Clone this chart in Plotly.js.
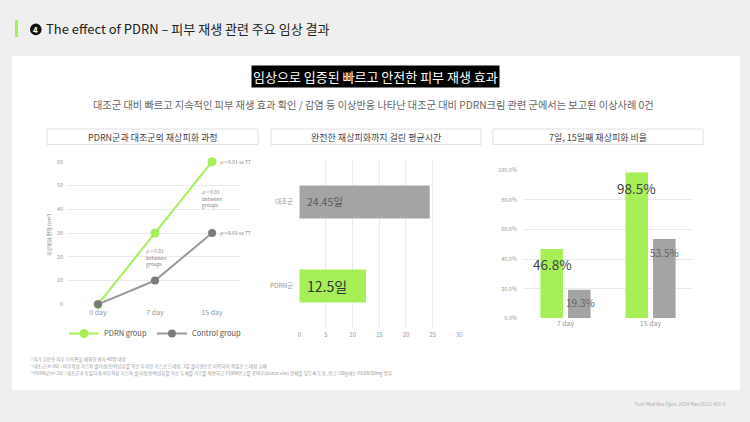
<!DOCTYPE html>
<html><head><meta charset="utf-8">
<script src="https://cdn.plot.ly/plotly-3.0.1.min.js"></script>
<style>html,body{margin:0;padding:0;background:#efefef}#c{width:750px;height:422px}</style>
</head><body><div id="c"></div><script>
// ---- data ----
const days = ['0 day', '7 day', '15 day'];
const pdrnArea = [0, 30, 60];
const controlArea = [0, 10, 30];
const areaTicks = [0, 10, 20, 30, 40, 50, 60];

const healCats = ['PDRN군', '대조군'];
const healDays = [12.5, 24.45];
const healTicks = [0, 5, 10, 15, 20, 25, 30];

const rateDays = ['7 day', '15 day'];
const pdrnRate = [46.8, 98.5];
const controlRate = [19.3, 53.5];
const rateTicks = [0, 20, 40, 60, 80, 100];

// ---- style ----
const W = 750, H = 422;
const GREEN = '#a6ef58', GRAY_BAR = '#a4a4a4', GRAY_LINE = '#9a9a9a', GRAY_MK = '#7a7a7a';
const FONT = '"Noto Sans CJK KR", "Noto Sans", sans-serif';
const px = x => x / W, py = y => 1 - y / H;

const traces = [
  {x: days, y: pdrnArea, xaxis: 'x', yaxis: 'y', type: 'scatter', mode: 'lines+markers', name: 'PDRN group',
   line: {color: GREEN, width: 2}, marker: {color: GREEN, size: 9}, cliponaxis: false},
  {x: days, y: controlArea, xaxis: 'x', yaxis: 'y', type: 'scatter', mode: 'lines+markers', name: 'Control group',
   line: {color: GRAY_LINE, width: 2}, marker: {color: GRAY_MK, size: 8}, cliponaxis: false},
  {y: healCats, x: healDays, xaxis: 'x2', yaxis: 'y2', type: 'bar', orientation: 'h', showlegend: false,
   marker: {color: [GREEN, GRAY_BAR]}, width: 0.39, hoverinfo: 'skip'},
  {x: rateDays, y: pdrnRate, xaxis: 'x3', yaxis: 'y3', type: 'bar', showlegend: false,
   marker: {color: GREEN}, width: 0.265, offset: -0.295, hoverinfo: 'skip'},
  {x: rateDays, y: controlRate, xaxis: 'x3', yaxis: 'y3', type: 'bar', showlegend: false,
   marker: {color: GRAY_BAR}, width: 0.265, offset: 0.03, hoverinfo: 'skip'}
];

const tickF = s => ({size: s, color: '#9a9a9a', family: FONT});
const layout = {
  width: W, height: H, margin: {l: 0, r: 0, t: 0, b: 0},
  paper_bgcolor: '#efefef', plot_bgcolor: 'rgba(0,0,0,0)',
  font: {family: FONT}, barmode: 'group',
  showlegend: true,
  legend: {orientation: 'h', x: px(64), y: py(319), xanchor: 'left', yanchor: 'top',
           font: {size: 7.5, color: '#555', family: FONT}, itemwidth: 30, bgcolor: 'rgba(0,0,0,0)', tracegroupgap: 0},
  xaxis: {domain: [px(68), px(240)], range: [-0.526, 2.49], type: 'category', anchor: 'y', showgrid: false, zeroline: false,
          showline: false, ticks: '', tickfont: tickF(7), ticklabelstandoff: 3, fixedrange: true},
  yaxis: {domain: [py(304.3), py(161.7)], range: [0, 60], anchor: 'x', tickvals: areaTicks, showgrid: true, gridcolor: '#ebebeb',
          zeroline: false, ticks: '', tickfont: tickF(5.5), ticklabelstandoff: 4, fixedrange: true},
  xaxis2: {domain: [px(299.3), px(459.3)], range: [0, 30], anchor: 'y2', tickvals: healTicks, showgrid: true, gridcolor: '#ebebeb',
           zeroline: false, ticks: '', tickfont: tickF(6), ticklabelstandoff: 2, fixedrange: true},
  yaxis2: {domain: [py(328), py(160)], anchor: 'x2', categoryorder: 'array', categoryarray: healCats, showgrid: false,
           zeroline: false, ticks: '', tickfont: tickF(6.5), ticklabelstandoff: 5, fixedrange: true},
  xaxis3: {domain: [px(523), px(693)], anchor: 'y3', type: 'category', showgrid: false, zeroline: false, ticks: '',
           tickfont: tickF(7), fixedrange: true},
  yaxis3: {domain: [py(318.3), py(170.3)], anchor: 'x3', range: [0, 100], tickvals: rateTicks,
           ticktext: rateTicks.map(v => v.toFixed(1) + '%'),
           showgrid: true, gridcolor: '#ebebeb', zeroline: false, ticks: '', tickfont: tickF(5.5), ticklabelstandoff: 5, fixedrange: true},
  shapes: [
    {type: 'rect', xref: 'paper', yref: 'paper', x0: px(12), x1: px(740), y0: py(390), y1: py(56),
     fillcolor: '#ffffff', line: {width: 0}, layer: 'below'},
    {type: 'rect', xref: 'paper', yref: 'paper', x0: px(15), x1: px(18), y0: py(37), y1: py(20),
     fillcolor: GREEN, line: {width: 0}},
    {type: 'circle', xref: 'paper', yref: 'paper', x0: px(30), x1: px(41.6), y0: py(35.2), y1: py(23.6),
     fillcolor: '#111', line: {width: 0}},
    {type: 'rect', xref: 'paper', yref: 'paper', x0: px(47), x1: px(258), y0: py(144.5), y1: py(129),
     fillcolor: 'rgba(0,0,0,0)', line: {width: 1, color: '#e0e0e0'}},
    {type: 'rect', xref: 'paper', yref: 'paper', x0: px(271), x1: px(481), y0: py(144.5), y1: py(129),
     fillcolor: 'rgba(0,0,0,0)', line: {width: 1, color: '#e0e0e0'}},
    {type: 'rect', xref: 'paper', yref: 'paper', x0: px(493), x1: px(703), y0: py(144.5), y1: py(129),
     fillcolor: 'rgba(0,0,0,0)', line: {width: 1, color: '#e0e0e0'}}
  ],
  annotations: []
};

const A = layout.annotations;
const pa = (x, y, text, size, color, extra) => A.push(Object.assign(
  {xref: 'paper', yref: 'paper', x: px(x), y: py(y), text: text, showarrow: false,
   font: {size: size, color: color, family: FONT}, xanchor: 'left', yanchor: 'middle'}, extra || {}));

pa(35.8, 29.4, '<b>4</b>', 8, '#fff', {xanchor: 'center'});
pa(44, 29, 'The effect of PDRN – 피부 재생 관련 주요 임상 결과', 13, '#222');
pa(375, 76.5, '임상으로 입증된 빠르고 안전한 피부 재생 효과', 13, '#fff', {xanchor: 'center', bgcolor: '#000', borderpad: 1});
pa(373, 105, '대조군 대비 빠르고 지속적인 피부 재생 효과 확인 / 감염 등 이상반응 나타난 대조군 대비 PDRN크림 관련 군에서는 보고된 이상사례 0건', 10.2, '#666', {xanchor: 'center'});
pa(152.5, 137, 'PDRN군과 대조군의 재상피화 과정', 9, '#444', {xanchor: 'center'});
pa(376, 137, '완전한 재상피화까지 걸린 평균시간', 9, '#444', {xanchor: 'center'});
pa(598, 137, '7일, 15일째 재상피화 비율', 9, '#444', {xanchor: 'center'});

// chart 1 notes
pa(49, 234, '재상피화 면적 (cm²)', 5, '#888', {xanchor: 'center', textangle: -90});
const dl = (x, y, t, ex) => A.push(Object.assign({xref: 'x', yref: 'y', x: x, y: y, text: t, showarrow: false,
  font: {size: 5, color: '#888', family: FONT}, xanchor: 'left', yanchor: 'middle', align: 'left'}, ex || {}));
dl(days[2], pdrnArea[2], '<i>p</i> < 0.01 vs T7', {xshift: 6});
dl(days[2], controlArea[2], '<i>p</i> < 0.01 vs T7', {xshift: 6});
dl(days[1], 19.5, '<i>p</i> < 0.01<br>between<br>groups', {xshift: -11});
dl(days[2], 44.6, '<i>p</i> < 0.01<br>between<br>groups', {xshift: -12});

// chart 2 labels
healCats.forEach((c, i) => A.push({xref: 'x2', yref: 'y2', x: 0, y: c, text: healDays[i] + '일', showarrow: false,
  xanchor: 'left', yanchor: 'middle', xshift: 6,
  font: {size: i === 0 ? 14 : 10.5, color: i === 0 ? '#333' : '#5a5a5a', family: FONT}}));

// chart 3 labels
const rl = (x, y, t, size, color, xs) => A.push({xref: 'x3', yref: 'y3', x: x, y: y, text: t, showarrow: false,
  font: {size: size, color: color, family: FONT}, xanchor: 'center', yanchor: 'middle', xshift: xs});
rl(rateDays[0], pdrnRate[0] - 10, pdrnRate[0] + '%', 13.5, '#444', -13);
rl(rateDays[1], pdrnRate[1] - 10.3, pdrnRate[1] + '%', 13.5, '#444', -14);
rl(rateDays[0], controlRate[0] - 8.3, controlRate[0] + '%', 10, '#666', 15);
rl(rateDays[1], controlRate[1] - 8.7, controlRate[1] + '%', 10, '#666', 14);

// footnotes
pa(29, 359, '*자가 부분층 피부 이식편을 채취한 환자 40명 대상', 4.6, '#999');
pa(29, 366, '*대조군(n=20) : 비부착성 거즈와 콜라겐/탄력섬유를 혁신 투과한 거즈로 드레싱, 3일 콜라겐으로 피복하여 적일로 드레싱 교체', 4.6, '#999');
pa(29, 373, '*PDRN군(n=20) : 대조군과 동일하게 비부착성 거즈와 콜라겐/탄력섬유를 혁신 두께를 거즈를 적용하고 PDRN연고를 공여부(donor site) 전체를 덮도록 도포, 연고 100g에는 PDRN 80mg 함유', 4.6, '#999');
pa(728, 404, 'Curr Med Res Opin. 2024 Mar;2023: 401-9', 4.8, '#aaa', {xanchor: 'right'});

Plotly.newPlot('c', traces, layout, {staticPlot: true, displayModeBar: false});
</script></body></html>
